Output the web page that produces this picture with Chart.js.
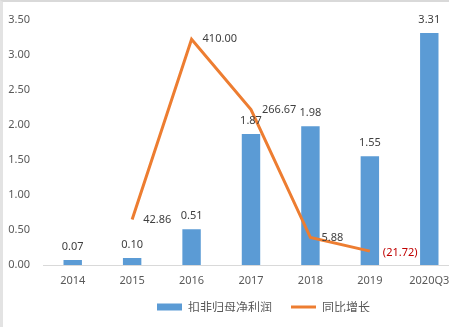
<!DOCTYPE html>
<html>
<head>
<meta charset="utf-8">
<script src="https://cdn.jsdelivr.net/npm/chart.js@4"></script>
<style>
    html, body { margin: 0; padding: 0; background: #fff; overflow: hidden; }
    #wrap { position: relative; width: 460px; height: 327px; }
    #frame { position: absolute; left: 0; top: 0; width: 449px; height: 327px; border-top: 2px solid #d9d9d9; border-left: 3px solid #e3e3e3; box-sizing: border-box; pointer-events: none; }
</style>
</head>
<body>
<div id="wrap">
    <canvas id="biChart" width="460" height="327"></canvas>
    <div id="frame"></div>
</div>
<script>
const categories = ['2014', '2015', '2016', '2017', '2018', '2019', '2020Q3'];
const profitValues = [0.07, 0.10, 0.51, 1.87, 1.98, 1.55, 3.31];
const growthValues = [null, 42.86, 410.00, 266.67, 5.88, -21.72, null];
const yTicks = [0, 0.5, 1, 1.5, 2, 2.5, 3, 3.5];

const barColor = '#5B9BD5';
const lineColor = '#ED7D31';
const textColor = '#595959';
const numFont = "'Noto Sans', sans-serif";

// Draw the value labels next to bars and line points
const valueLabels = {
    id: 'valueLabels',
    afterDatasetsDraw(chart) {
        const ctx = chart.ctx;
        ctx.save();
        ctx.font = `11px ${numFont}`;
        ctx.textBaseline = 'middle';

        const barMeta = chart.getDatasetMeta(0);
        ctx.textAlign = 'center';
        ctx.fillStyle = '#404040';
        barMeta.data.forEach((bar, i) => {
            ctx.fillText(profitValues[i].toFixed(2), bar.x, bar.y - 13);
        });

        const lineMeta = chart.getDatasetMeta(1);
        ctx.textAlign = 'left';
        lineMeta.data.forEach((pt, i) => {
            const v = growthValues[i];
            if (v === null) return;
            if (v < 0) {
                ctx.fillStyle = '#C00000';
                ctx.fillText(`(${Math.abs(v).toFixed(2)})`, pt.x + 13, pt.y + 2);
            } else {
                ctx.fillStyle = '#404040';
                ctx.fillText(v.toFixed(2), pt.x + 11, pt.y);
            }
        });
        ctx.restore();
    }
};

// The original legend sits right of centre (chart was cropped on the right)
const legendShift = {
    id: 'legendShift',
    afterUpdate(chart) {
        const lg = chart.legend;
        lg.left += 34;
        lg.right += 34;
        lg.top -= 10;
        lg.bottom -= 10;
    }
};

document.addEventListener('DOMContentLoaded', () => {
    const ctx = document.getElementById('biChart').getContext('2d');

    new Chart(ctx, {
        type: 'bar',
        data: {
            labels: categories,
            datasets: [{
                label: '扣非归母净利润',
                data: profitValues,
                backgroundColor: barColor,
                borderWidth: 0,
                barPercentage: 0.31,
                categoryPercentage: 1,
                yAxisID: 'y',
                order: 2,
                pointStyle: 'rect'
            }, {
                type: 'line',
                label: '同比增长',
                data: growthValues,
                borderColor: lineColor,
                backgroundColor: lineColor,
                borderWidth: 3,
                pointRadius: 0,
                tension: 0,
                spanGaps: false,
                yAxisID: 'y1',
                order: 1,
                pointStyle: 'line'
            }]
        },
        options: {
            responsive: false,
            animation: false,
            layout: { padding: { top: 15, right: 1, bottom: 5, left: 0 } },
            plugins: {
                tooltip: { enabled: false },
                legend: {
                    position: 'bottom',
                    maxHeight: 30,
                    labels: {
                        usePointStyle: true,
                        pointStyleWidth: 25,
                        boxHeight: 7,
                        padding: 19,
                        color: textColor,
                        font: { size: 12, family: "'Noto Sans CJK SC', sans-serif" },
                        sort: (a, b) => a.datasetIndex - b.datasetIndex
                    }
                }
            },
            scales: {
                x: {
                    offset: true,
                    afterFit: s => { s.height = 27; },
                    grid: { display: false, drawTicks: false },
                    border: { display: true, color: '#d9d9d9', width: 1 },
                    ticks: { color: textColor, padding: 9, font: { size: 11, family: numFont }, maxRotation: 0 }
                },
                y: {
                    min: 0,
                    max: 3.5,
                    afterFit: s => { s.width = 43; },
                    afterBuildTicks: s => { s.ticks = yTicks.map(v => ({ value: v })); },
                    grid: { display: false, drawTicks: false },
                    border: { display: false },
                    ticks: {
                        color: textColor,
                        padding: 13,
                        font: { size: 11, family: numFont },
                        callback: v => Number(v).toFixed(2)
                    }
                },
                y1: {
                    display: false,
                    min: -50,
                    max: 450
                }
            }
        },
        plugins: [valueLabels, legendShift]
    });
});
</script>
</body>
</html>
